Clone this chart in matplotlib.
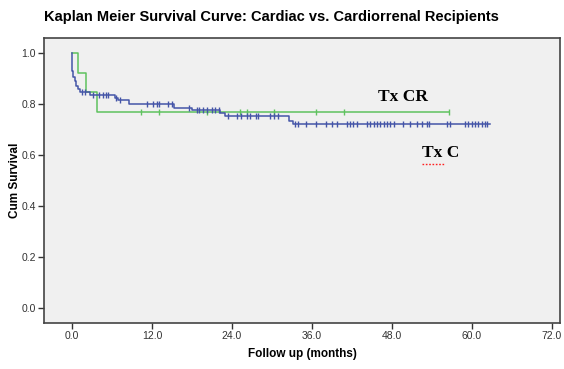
import numpy as np
import matplotlib.pyplot as plt

plt.rcParams["font.family"] = ["Liberation Sans", "DejaVu Sans"]

# Tx C (cardiac) - step times and survival after each step
c_times = [0.0, 0.05, 0.2, 0.5, 0.6, 0.85, 1.2, 2.7, 6.45, 6.9, 8.6, 15.3, 18.0, 22.2, 22.9, 32.6, 33.2]
c_surv = [1.0, 0.93, 0.905, 0.89, 0.87, 0.857, 0.847, 0.835, 0.822, 0.815, 0.800, 0.786, 0.776, 0.766, 0.752, 0.735, 0.72]
c_end = 62.7
c_censor = [1.45, 1.95, 3.2, 4.1, 4.65, 5.05, 5.45, 6.6, 7.2, 11.3, 12.2, 12.7, 13.1, 14.4, 14.95,
            17.6, 18.7, 19.1, 19.7, 20.2, 20.95, 21.45, 22.0, 23.45, 24.8, 25.3, 26.2, 26.7, 27.6, 27.95,
            29.7, 30.3, 30.95, 33.45, 33.95, 35.1, 36.6, 38.1, 38.95, 39.8, 41.2, 41.7, 42.2, 42.75,
            44.3, 44.7, 45.3, 45.8, 46.2, 46.8, 47.2, 47.7, 48.3, 49.7, 50.7, 51.7, 52.45, 53.2, 53.6,
            56.2, 56.7, 58.95, 59.45, 59.95, 60.45, 60.95, 61.45, 61.95, 62.3]

# Tx CR (cardiorenal)
cr_times = [0.0, 0.9, 2.1, 3.8]
cr_surv = [1.0, 0.923, 0.846, 0.769]
cr_end = 56.6
cr_censor = [10.4, 13.1, 20.3, 25.2, 26.2, 30.3, 36.6, 40.8, 56.6]

x_ticks = [0, 12, 24, 36, 48, 60, 72]
y_ticks = [0.0, 0.2, 0.4, 0.6, 0.8, 1.0]

BLUE = "#4455a8"
GREEN = "#5fc25f"


def km_line(ax, times, surv, end, censor, color):
    xs = list(times) + [end]
    ys = list(surv) + [surv[-1]]
    ax.step(xs, ys, where="post", color=color, lw=1.1, zorder=3)
    idx = np.searchsorted(times, censor, side="right") - 1
    cy = np.array(surv)[idx]
    ax.plot(censor, cy, ls="none", marker="|", ms=5, mew=1.0, color=color, zorder=4)


fig = plt.figure(figsize=(5.64, 3.69), dpi=100)
ax = fig.add_axes([0.078, 0.125, 0.915, 0.772])
ax.set_facecolor("#f0f0f0")

km_line(ax, cr_times, cr_surv, cr_end, cr_censor, GREEN)
km_line(ax, c_times, c_surv, c_end, c_censor, BLUE)

ax.set_xlim(-4.2, 73.2)
ax.set_ylim(-0.059, 1.059)
ax.set_xticks(x_ticks)
ax.set_xticklabels([f"{v:.1f}" for v in x_ticks])
ax.set_yticks(y_ticks)
ax.set_yticklabels([f"{v:.1f}" for v in y_ticks])
ax.tick_params(direction="out", length=4, width=1, labelsize=7.5, colors="#333333", pad=2)

for s in ax.spines.values():
    s.set_color("#444444")
    s.set_linewidth(1.2)

ax.set_xlabel("Follow up (months)", fontsize=8.5, fontweight="bold", labelpad=5)
ax.set_ylabel("Cum Survival", fontsize=8.5, fontweight="bold")
ax.yaxis.set_label_coords(-0.045, 0.5)

fig.text(0.078, 0.955, "Kaplan Meier Survival Curve: Cardiac vs. Cardiorrenal Recipients",
         fontsize=10.5, fontweight="bold", ha="left", va="center")

ax.text(0.647, 0.793, "Tx CR", transform=ax.transAxes, fontsize=12.5, fontweight="bold",
        family="Liberation Serif", ha="left", va="center")
ax.text(0.733, 0.596, "Tx C", transform=ax.transAxes, fontsize=12.5, fontweight="bold",
        family="Liberation Serif", ha="left", va="center")
ax.plot([0.733, 0.778], [0.558, 0.558], transform=ax.transAxes, color="#ff2020",
        lw=1.0, ls=(0, (1.2, 1.2)))

fig.savefig("out.png", dpi=100)
